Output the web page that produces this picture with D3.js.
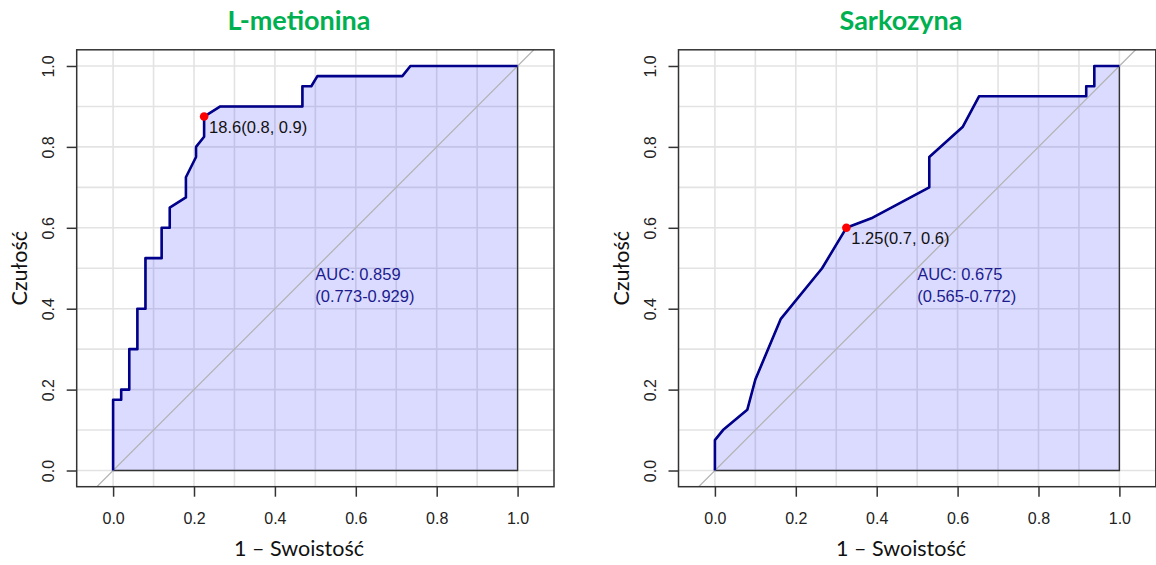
<!DOCTYPE html>
<html>
<head>
<meta charset="utf-8">
<script src="https://cdn.jsdelivr.net/npm/d3@7"></script>
<style>
  html, body { margin: 0; padding: 0; background: #fff; }
  svg { display: block; }
</style>
</head>
<body>
<svg id="chart" width="1156" height="565"></svg>
<script>
// ROC curve for L-metionina: 1 - specificity (FPR) and sensitivity (TPR)
const metTitle = "L-metionina";
const metFpr = [0, 0, 0.02, 0.02, 0.04, 0.04, 0.06, 0.06, 0.08, 0.08, 0.12, 0.12, 0.14, 0.14, 0.18, 0.18, 0.205, 0.205, 0.225, 0.225, 0.265, 0.468, 0.468, 0.49, 0.505, 0.715, 0.735, 1];
const metTpr = [0, 0.175, 0.175, 0.2, 0.2, 0.3, 0.3, 0.4, 0.4, 0.525, 0.525, 0.6, 0.6, 0.65, 0.675, 0.725, 0.775, 0.8, 0.825, 0.875, 0.9, 0.9, 0.95, 0.95, 0.975, 0.975, 1, 1];
const metThreshold = [18.6, 0.775, 0.875];   // threshold, specificity, sensitivity
const metAuc = ["AUC: 0.859", "(0.773-0.929)"];

// ROC curve for Sarkozyna
const sarTitle = "Sarkozyna";
const sarFpr = [0, 0, 0.02, 0.08, 0.1, 0.163, 0.265, 0.325, 0.39, 0.53, 0.53, 0.613, 0.653, 0.918, 0.918, 0.938, 0.938, 1];
const sarTpr = [0, 0.075, 0.1, 0.15, 0.225, 0.375, 0.5, 0.6, 0.625, 0.7, 0.775, 0.85, 0.925, 0.925, 0.95, 0.95, 1, 1];
const sarThreshold = [1.25, 0.675, 0.6];
const sarAuc = ["AUC: 0.675", "(0.565-0.772)"];

// Axis ticks and titles
const axisTicks = [0, 0.2, 0.4, 0.6, 0.8, 1.0];
const gridSteps = [0, 0.1, 0.2, 0.3, 0.4, 0.5, 0.6, 0.7, 0.8, 0.9, 1.0];
const xTitle = "1 \u2013 Swoisto\u015B\u0107";
const yTitle = "Czu\u0142o\u015B\u0107";

const svg = d3.select("#chart");
const fmt1 = d3.format(".1f");
const plotFont = "Liberation Sans, Arial, sans-serif";
const labelFont = "Lato, 'Open Sans', sans-serif";

function drawPanel(id, left, title, fpr, tpr, thr, aucLines, titleX) {
  const x = d3.scaleLinear().domain([-0.09, 1.09]).range([left, left + 477.3]);
  const y = d3.scaleLinear().domain([-0.04, 1.04]).range([486.7, 49.8]);
  const g = svg.append("g");
  const [bx0, bx1] = x.range();
  const [by1, by0] = y.range();

  g.append("clipPath").attr("id", "clip-" + id)
    .append("rect").attr("x", bx0).attr("y", by0).attr("width", bx1 - bx0).attr("height", by1 - by0);

  // grid
  const grid = g.append("g").attr("stroke", "#e3e3e3").attr("stroke-width", 1.6);
  grid.selectAll("line.v").data(gridSteps).join("line").attr("class", "v")
    .attr("x1", d => x(d)).attr("x2", d => x(d)).attr("y1", by0).attr("y2", by1);
  grid.selectAll("line.h").data(gridSteps).join("line").attr("class", "h")
    .attr("y1", d => y(d)).attr("y2", d => y(d)).attr("x1", bx0).attr("x2", bx1);

  const pts = fpr.map((f, i) => [f, tpr[i]]);

  // AUC polygon
  const poly = pts.concat([[1, 0], [0, 0]]);
  g.append("path")
    .attr("d", d3.line().x(d => x(d[0])).y(d => y(d[1]))(poly) + "Z")
    .attr("fill", "#0000ff").attr("fill-opacity", 0.14)
    .attr("stroke", "#333").attr("stroke-width", 1.4);

  // chance diagonal
  g.append("line").attr("clip-path", `url(#clip-${id})`)
    .attr("x1", x(-0.1)).attr("y1", y(-0.1)).attr("x2", x(1.1)).attr("y2", y(1.1))
    .attr("stroke", "#b3b3b3").attr("stroke-width", 1.3);

  // ROC curve
  g.append("path")
    .attr("d", d3.line().x(d => x(d[0])).y(d => y(d[1]))(pts))
    .attr("fill", "none").attr("stroke", "#00008b").attr("stroke-width", 2.6)
    .attr("stroke-linejoin", "round");

  // best threshold
  const [tVal, spec, sens] = thr;
  g.append("circle").attr("cx", x(1 - spec)).attr("cy", y(sens)).attr("r", 4.3).attr("fill", "#ff0000");
  g.append("text").attr("x", x(1 - spec) + 5).attr("y", y(sens) + 16)
    .attr("font-family", plotFont).attr("font-size", 16.5).attr("fill", "#111")
    .text(`${tVal}(${fmt1(spec)}, ${fmt1(sens)})`);

  // AUC label
  const auc = g.append("text").attr("font-family", plotFont)
    .attr("font-size", 16.5).attr("fill", "#1c1c8f");
  aucLines.forEach((t, i) => auc.append("tspan").attr("x", x(0.5)).attr("y", 280 + i * 22.4).text(t));

  // frame
  g.append("rect").attr("x", bx0).attr("y", by0).attr("width", bx1 - bx0).attr("height", by1 - by0)
    .attr("fill", "none").attr("stroke", "#333").attr("stroke-width", 1.5);

  // x axis
  const xa = g.append("g").attr("transform", `translate(0,${by1})`)
    .call(d3.axisBottom(x).tickValues(axisTicks).tickFormat(fmt1).tickSize(10).tickPadding(16));
  xa.select(".domain").attr("stroke", "none");
  xa.selectAll(".tick line").attr("stroke", "#333").attr("stroke-width", 1.5);
  xa.selectAll(".tick text").attr("font-family", plotFont)
    .attr("font-size", 16).attr("fill", "#222");

  // y axis (rotated labels)
  const ya = g.append("g").attr("transform", `translate(${bx0},0)`)
    .call(d3.axisLeft(y).tickValues(axisTicks).tickFormat(fmt1).tickSize(10).tickPadding(0));
  ya.select(".domain").attr("stroke", "none");
  ya.selectAll(".tick line").attr("stroke", "#333").attr("stroke-width", 1.5);
  ya.selectAll(".tick text").attr("font-family", plotFont)
    .attr("font-size", 16).attr("fill", "#222")
    .attr("x", null).attr("dy", null)
    .attr("text-anchor", "middle")
    .attr("transform", "translate(-21.5,0) rotate(-90)")
    .attr("y", 0).attr("dy", "-0.05em");

  // axis titles
  g.append("text").attr("x", titleX).attr("y", 556).attr("text-anchor", "middle")
    .attr("font-family", labelFont).attr("font-size", 21.5).attr("fill", "#111")
    .text(xTitle);
  g.append("text").attr("transform", `translate(${bx0 - 50},${y(0.5)}) rotate(-90)`)
    .attr("text-anchor", "middle")
    .attr("font-family", labelFont).attr("font-size", 21.5).attr("fill", "#111")
    .text(yTitle);

  // panel title
  g.append("text").attr("x", titleX).attr("y", 30).attr("text-anchor", "middle")
    .attr("font-family", labelFont).attr("font-weight", "bold")
    .attr("font-size", 27).attr("fill", "#00b050")
    .text(title);
}

drawPanel("met", 76.7, metTitle, metFpr, metTpr, metThreshold, metAuc, 299);
drawPanel("sar", 678.5, sarTitle, sarFpr, sarTpr, sarThreshold, sarAuc, 901);
</script>
</body>
</html>
